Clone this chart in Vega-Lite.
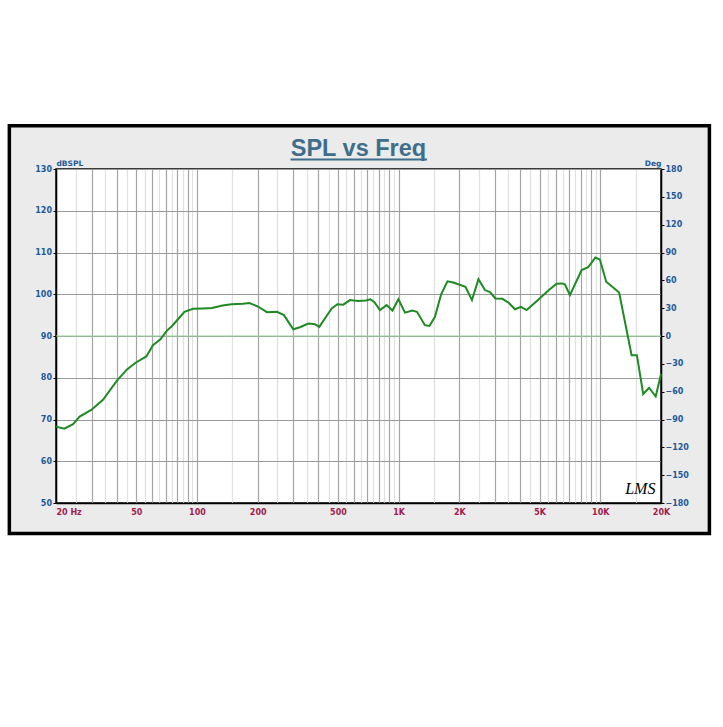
{
  "$schema": "https://vega.github.io/schema/vega-lite/v6.json",
  "width": 605,
  "height": 334,
  "autosize": {"type": "none"},
  "padding": {"left": 56, "top": 169, "right": 62, "bottom": 224},
  "background": "#ebebeb",
  "datasets": {
    "spl": [
      {"freq": 20, "spl": 68.3}, {"freq": 22, "spl": 67.8}, {"freq": 24.3, "spl": 68.9}, {"freq": 26.2, "spl": 70.7},
      {"freq": 29.9, "spl": 72.3}, {"freq": 34.2, "spl": 74.7}, {"freq": 40.1, "spl": 79.3}, {"freq": 45, "spl": 82.0},
      {"freq": 49.6, "spl": 83.6}, {"freq": 56.1, "spl": 85.1}, {"freq": 60.5, "spl": 87.8}, {"freq": 65.9, "spl": 89.2},
      {"freq": 71, "spl": 91.3}, {"freq": 75.2, "spl": 92.4}, {"freq": 80.1, "spl": 93.9}, {"freq": 86.7, "spl": 95.8},
      {"freq": 95.6, "spl": 96.5}, {"freq": 106.7, "spl": 96.6}, {"freq": 118.7, "spl": 96.7}, {"freq": 133.9, "spl": 97.3},
      {"freq": 148.3, "spl": 97.6}, {"freq": 169.1, "spl": 97.7}, {"freq": 182.1, "spl": 97.9}, {"freq": 201.8, "spl": 97.0},
      {"freq": 222.4, "spl": 95.7}, {"freq": 249.3, "spl": 95.8}, {"freq": 270, "spl": 95.0}, {"freq": 300.3, "spl": 91.6},
      {"freq": 324.2, "spl": 92.1}, {"freq": 356.5, "spl": 93.0}, {"freq": 384.8, "spl": 92.8}, {"freq": 404.1, "spl": 92.2},
      {"freq": 447.9, "spl": 95.4}, {"freq": 465.6, "spl": 96.6}, {"freq": 497.3, "spl": 97.6}, {"freq": 531.4, "spl": 97.5},
      {"freq": 573.8, "spl": 98.6}, {"freq": 628.7, "spl": 98.4}, {"freq": 688.6, "spl": 98.5}, {"freq": 725, "spl": 98.8},
      {"freq": 758.6, "spl": 98.1}, {"freq": 808, "spl": 96.2}, {"freq": 872.2, "spl": 97.4}, {"freq": 931.7, "spl": 96.1},
      {"freq": 997.8, "spl": 98.8}, {"freq": 1075, "spl": 95.6}, {"freq": 1171, "spl": 96.1}, {"freq": 1233, "spl": 95.8},
      {"freq": 1350, "spl": 92.6}, {"freq": 1422, "spl": 92.4}, {"freq": 1514, "spl": 94.6}, {"freq": 1625, "spl": 100.0},
      {"freq": 1746, "spl": 103.1}, {"freq": 1866, "spl": 102.8}, {"freq": 2145, "spl": 101.8}, {"freq": 2310, "spl": 98.6},
      {"freq": 2488, "spl": 103.6}, {"freq": 2679, "spl": 101.0}, {"freq": 2837, "spl": 100.5}, {"freq": 3021, "spl": 99.0},
      {"freq": 3271, "spl": 98.9}, {"freq": 3524, "spl": 97.9}, {"freq": 3774, "spl": 96.4}, {"freq": 4041, "spl": 97.0},
      {"freq": 4314, "spl": 96.2}, {"freq": 4878, "spl": 98.5}, {"freq": 5562, "spl": 101.0}, {"freq": 6074, "spl": 102.5},
      {"freq": 6452, "spl": 102.6}, {"freq": 6677, "spl": 102.4}, {"freq": 7070, "spl": 99.8}, {"freq": 8081, "spl": 105.8},
      {"freq": 8713, "spl": 106.5}, {"freq": 9459, "spl": 108.8}, {"freq": 9957, "spl": 108.3}, {"freq": 10700, "spl": 103.0},
      {"freq": 12398, "spl": 100.4}, {"freq": 14298, "spl": 85.4}, {"freq": 15190, "spl": 85.4}, {"freq": 16321, "spl": 76.1},
      {"freq": 17461, "spl": 77.6}, {"freq": 18825, "spl": 75.5}, {"freq": 20000, "spl": 80.9}
    ]
  },
  "config": {
    "view": {"fill": "white", "stroke": "black", "strokeWidth": 1.5}
  },
  "layer": [
    {
      "data": {"values": [{}]},
      "mark": {"type": "rule", "color": "#94d494", "strokeWidth": 1.2},
      "encoding": {
        "y": {"datum": 0, "type": "quantitative", "scale": {"domain": [-180, 180], "nice": false, "zero": false},
          "axis": {"orient": "right", "values": [-180, -150, -120, -90, -60, -30, 0, 30, 60, 90, 120, 150, 180],
            "grid": false, "ticks": true, "tickSize": 3, "tickColor": "black", "domainColor": "black", "domainWidth": 1.5,
            "labelColor": "#1d5a99", "labelFont": "DejaVu Sans", "labelFontWeight": "bold", "labelFontSize": 8, "labelPadding": 1,
            "labelOverlap": false,
            "title": "Deg", "titleAngle": 0, "titleAlign": "right", "titleBaseline": "alphabetic", "titleX": 0, "titleY": -4,
            "titleFont": "DejaVu Sans", "titleFontSize": 7.5, "titleFontWeight": "bold", "titleColor": "#1d5a99"}}
      }
    },
    {
      "layer": [
        {
          "data": {"name": "spl"},
          "mark": {"type": "line", "color": "#1f8a24", "strokeWidth": 2},
          "encoding": {
            "x": {"field": "freq", "type": "quantitative", "scale": {"type": "log", "domain": [20, 20000], "nice": false},
              "axis": {"orient": "bottom", "title": null,
                "values": [20, 25, 30, 35, 40, 45, 50, 55, 60, 65, 70, 75, 80, 85, 90, 95, 100, 150, 200, 250, 300, 350, 400, 450, 500, 550, 600, 650, 700, 750, 800, 850, 900, 950, 1000, 1500, 2000, 2500, 3000, 3500, 4000, 4500, 5000, 5500, 6000, 6500, 7000, 7500, 8000, 8500, 9000, 9500, 10000, 15000, 20000],
                "grid": true,
                "gridColor": {"condition": {"test": "datum.value % pow(10, floor(log(datum.value) / LN10)) != 0", "value": "#e0e0e0"}, "value": "#a4a4a4"},
                "gridWidth": 1.2,
                "ticks": false, "tickSize": 0, "domainColor": "black", "domainWidth": 1.5,
                "labelExpr": "datum.value == 20 ? '20 Hz' : datum.value == 50 ? '50' : datum.value == 100 ? '100' : datum.value == 200 ? '200' : datum.value == 500 ? '500' : datum.value == 1000 ? '1K' : datum.value == 2000 ? '2K' : datum.value == 5000 ? '5K' : datum.value == 10000 ? '10K' : datum.value == 20000 ? '20K' : ''",
                "labelAlign": {"condition": {"test": "datum.value == 20", "value": "left"}, "value": "center"},
                "labelColor": "#a01c4e", "labelFont": "DejaVu Sans", "labelFontWeight": "bold", "labelFontSize": 8,
                "labelPadding": 5, "labelOverlap": false, "labelFlush": false, "labelBound": false}},
            "y": {"field": "spl", "type": "quantitative", "scale": {"domain": [50, 130], "nice": false, "zero": false},
              "axis": {"orient": "left", "values": [50, 60, 70, 80, 90, 100, 110, 120, 130],
                "grid": true, "gridColor": "#9a9a9a", "gridWidth": 1.2,
                "ticks": true, "tickSize": 3, "tickColor": "black", "domainColor": "black", "domainWidth": 1.5,
                "labelColor": "#1d5a99", "labelFont": "DejaVu Sans", "labelFontWeight": "bold", "labelFontSize": 8, "labelPadding": 1.5,
                "labelOverlap": false,
                "title": "dBSPL", "titleAngle": 0, "titleAlign": "left", "titleBaseline": "alphabetic", "titleX": 0, "titleY": -4,
                "titleFont": "DejaVu Sans", "titleFontSize": 7.5, "titleFontWeight": "bold", "titleColor": "#1d5a99"}}
          }
        },
        {
          "data": {"values": [{}]},
          "mark": {"type": "rect", "fill": "white", "stroke": null},
          "encoding": {
            "x": {"datum": 1, "type": "quantitative", "scale": {"type": "log", "domain": [20, 20000], "nice": false}},
            "x2": {"datum": 10000000},
            "y": {"datum": 140.54, "type": "quantitative", "scale": {"domain": [50, 130], "nice": false, "zero": false}},
            "y2": {"datum": 400}
          }
        },
        {
          "data": {"values": [{}]},
          "mark": {"type": "rect", "fill": "white", "stroke": null},
          "encoding": {
            "x": {"datum": 1, "type": "quantitative", "scale": {"type": "log", "domain": [20, 20000], "nice": false}},
            "x2": {"datum": 10000000},
            "y": {"datum": 42.81, "type": "quantitative", "scale": {"domain": [50, 130], "nice": false, "zero": false}},
            "y2": {"datum": -300}
          }
        },
        {
          "data": {"values": [{}]},
          "mark": {"type": "rect", "fill": "white", "stroke": null},
          "encoding": {
            "x": {"datum": 1, "type": "quantitative", "scale": {"type": "log", "domain": [20, 20000], "nice": false}},
            "x2": {"datum": 11.7},
            "y": {"datum": -300, "type": "quantitative", "scale": {"domain": [50, 130], "nice": false, "zero": false}},
            "y2": {"datum": 400}
          }
        },
        {
          "data": {"values": [{}]},
          "mark": {"type": "rect", "fill": "white", "stroke": null},
          "encoding": {
            "x": {"datum": 34956, "type": "quantitative", "scale": {"type": "log", "domain": [20, 20000], "nice": false}},
            "x2": {"datum": 10000000},
            "y": {"datum": -300, "type": "quantitative", "scale": {"domain": [50, 130], "nice": false, "zero": false}},
            "y2": {"datum": 400}
          }
        },
        {
          "data": {"values": [{}]},
          "mark": {"type": "rect", "fill": "transparent", "stroke": "black", "strokeWidth": 3.5},
          "encoding": {
            "x": {"datum": 11.74, "type": "quantitative", "scale": {"type": "log", "domain": [20, 20000], "nice": false}},
            "x2": {"datum": 34756},
            "y": {"datum": 140.35, "type": "quantitative", "scale": {"domain": [50, 130], "nice": false, "zero": false}},
            "y2": {"datum": 42.72}
          }
        },
        {
          "data": {"values": [{}]},
          "mark": {"type": "text", "font": "Liberation Sans", "fontSize": 23.5, "fontWeight": "bold", "color": "#3f6e8a", "align": "center", "baseline": "alphabetic"},
          "encoding": {
            "x": {"datum": 632.2, "type": "quantitative", "scale": {"type": "log", "domain": [20, 20000], "nice": false}},
            "y": {"datum": 133.19, "type": "quantitative", "scale": {"domain": [50, 130], "nice": false, "zero": false}},
            "text": {"value": "SPL vs Freq"}
          }
        },
        {
          "data": {"values": [{}]},
          "mark": {"type": "rule", "color": "#3f6e8a", "strokeWidth": 2},
          "encoding": {
            "x": {"datum": 290.9, "type": "quantitative", "scale": {"type": "log", "domain": [20, 20000], "nice": false}},
            "x2": {"datum": 1382.6},
            "y": {"datum": 132.28, "type": "quantitative", "scale": {"domain": [50, 130], "nice": false, "zero": false}}
          }
        },
        {
          "data": {"values": [{}]},
          "mark": {"type": "text", "font": "Liberation Serif", "fontStyle": "italic", "fontSize": 16, "color": "black", "align": "center", "baseline": "middle"},
          "encoding": {
            "x": {"datum": 15794, "type": "quantitative", "scale": {"type": "log", "domain": [20, 20000], "nice": false}},
            "y": {"datum": 53.35, "type": "quantitative", "scale": {"domain": [50, 130], "nice": false, "zero": false}},
            "text": {"value": "LMS"}
          }
        }
      ]
    }
  ],
  "resolve": {"scale": {"y": "independent"}, "axis": {"y": "independent"}}
}
